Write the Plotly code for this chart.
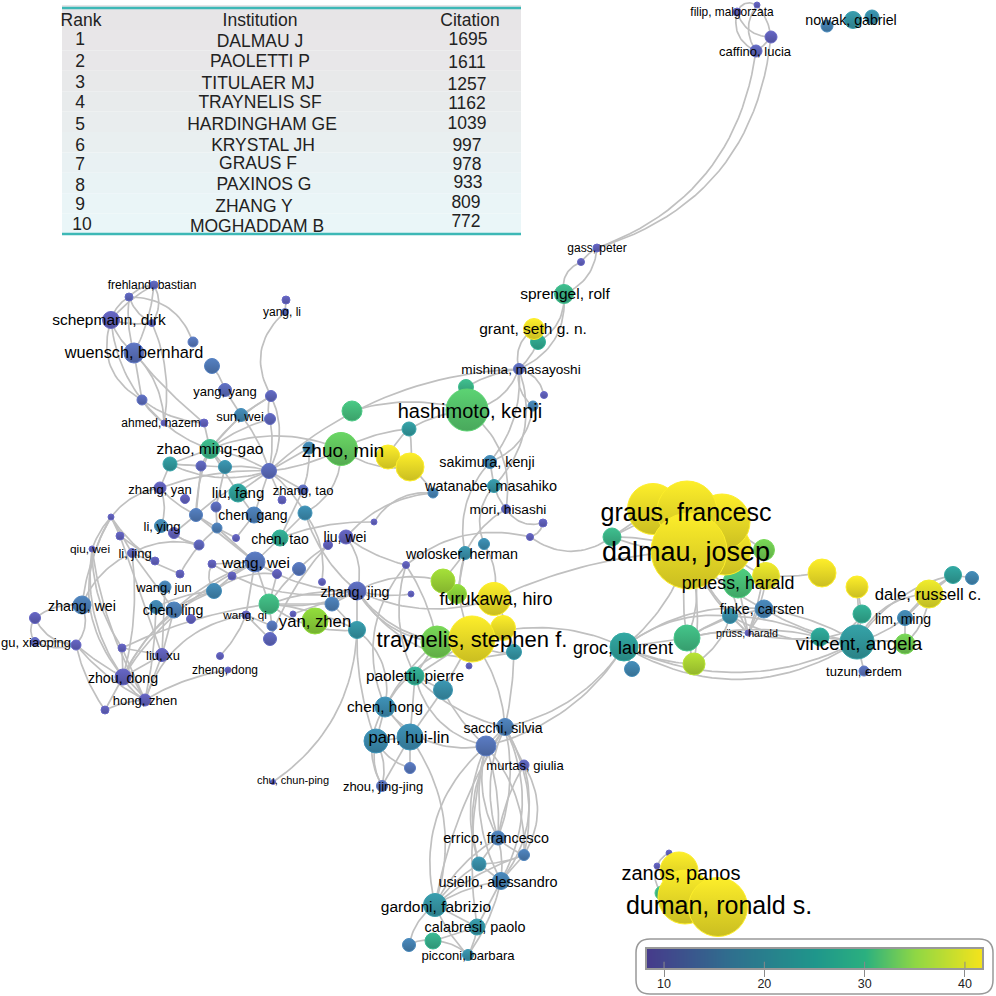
import numpy as np
import plotly.graph_objects as go
from plotly.colors import sample_colorscale

# table at the top left
table_header = ["Rank", "Institution", "Citation"]
table_rank = ["1", "2", "3", "4", "5", "6", "7", "8", "9", "10"]
table_name = ["DALMAU J", "PAOLETTI P", "TITULAER MJ", "TRAYNELIS SF", "HARDINGHAM GE",
              "KRYSTAL JH", "GRAUS F", "PAXINOS G", "ZHANG Y", "MOGHADDAM B"]
table_citation = ["1695", "1611", "1257", "1162", "1039", "997", "978", "933", "809", "772"]
table_fill = ["#e8e6e8", "#e8e7e9", "#e8e9ea", "#e8ebec", "#e9edee",
              "#e9eff0", "#e9f1f3", "#e9f3f5", "#eaf5f7", "#eaf6f8"]
# the rows of the original are not quite evenly spaced
rank_y = [39.7, 61, 82.3, 102.3, 124, 145, 164.3, 185, 204.3, 224]
rank_x = [80, 80, 80, 80, 80, 80, 80, 80, 80, 82]
name_y = [41.3, 61.7, 83.3, 102.3, 124, 145, 163.3, 184, 206, 226]
name_x = [260, 260, 258, 260, 262, 263, 258, 264, 254, 257]
citation_y = [39.7, 62.3, 84, 103.7, 123.3, 145, 164, 182.7, 202.3, 221.7]
citation_x = [468, 467, 467, 467, 467, 467, 467, 468, 466, 466]
row_edges = [30, 50.4, 70.8, 91.2, 111.6, 132, 152.4, 172.8, 193.2, 213.6, 234]

# network nodes, same order in all five lists
node_ids = [
    "frehland", "a1", "schepmann", "a2", "wuensch", "a3", "a4", "yangy", "a5", "yangli",
    "a6", "a7", "sunwei", "a8", "ahmed", "a9", "zhao", "a10", "a11", "a12",
    "a13", "zhuo", "a14", "a15", "a16", "a17", "a18", "zhangyan", "a19", "liufang",
    "zhangtao", "a20", "a21", "a22", "chengang", "a23", "a24", "liying", "a25", "a26",
    "a27", "a28", "chentao", "liuwei", "a29", "a30", "a31", "qiuwei", "lijing", "a32",
    "a33", "wangwei", "a34", "a35", "a36", "a37", "a38", "a39", "wangjun", "a40",
    "zhangjing", "a41", "a42", "a43", "zhangwei", "a44", "chenling", "a45", "a46", "wangqi",
    "a47", "a48", "yanzhen", "a49", "a50", "gu", "a51", "a52", "liuxu", "a53",
    "zhengdong", "zhoudong", "hongzhen", "a54", "chu",
    "gass", "b1", "sprengel", "b2", "grant", "mishina", "b3", "hashimoto", "b4", "b5",
    "sakimura", "watanabe", "b6", "mori", "b7", "b8", "b9", "b10", "wolosker", "b11",
    "b12", "furukawa", "b13", "traynelis", "b14", "b15", "groc", "b16", "b17", "paoletti",
    "b18", "chenhong", "panl", "pan", "sacchi", "b19", "murtas", "b20", "zhoujj", "errico",
    "b21", "b22", "usiello", "gardoni", "calabresi", "b23", "b24", "picconi",
    "c1", "graus", "c2", "c3", "dalmau", "c4", "c5", "pruess", "c6", "c7",
    "dale", "c8", "c9", "finke", "c10", "c11", "limming", "pruss", "c12", "c13",
    "vincent", "c14", "c15", "tuzun",
    "filip", "d1", "d2", "caffino", "nowak1", "nowak", "nowak2",
    "e1", "e2", "e3", "e4", "zanos", "duman",
]
node_x = [
    154, 129, 111, 152, 134, 193, 212, 225, 286, 285,
    271, 142, 241, 270, 164, 204, 210, 170, 201, 225,
    269, 341, 309, 352, 409, 388, 410, 160, 185, 238,
    303, 282, 216, 196, 254, 305, 111, 161, 174, 217,
    120, 236, 280, 346, 328, 374, 199, 92, 132, 155,
    212, 255, 299, 232, 277, 180, 322, 406, 165, 214,
    357, 411, 332, 269, 82, 156, 174, 35, 191, 246,
    293, 272, 315, 357, 270, 35, 76, 122, 162, 220,
    228, 123, 145, 105, 273,
    597, 581, 564, 538, 534, 519, 466, 467, 544, 533,
    490, 494, 433, 506, 543, 530, 612, 484, 465, 443,
    457, 494, 503, 472, 437, 514, 624, 632, 469, 415,
    443, 385, 376, 410, 505, 486, 524, 410, 382, 498,
    524, 479, 501, 435, 477, 409, 433, 468,
    653, 687, 722, 725, 689, 764, 766, 738, 822, 857,
    929, 953, 972, 764, 730, 862, 905, 748, 687, 820,
    857, 905, 694, 864,
    737, 757, 771, 756, 827, 853, 872,
    669, 657, 662, 679, 685, 718,
]
node_y = [
    285, 297, 320, 323, 353, 342, 366, 390, 300, 312,
    396, 400, 415, 419, 423, 423, 449, 464, 466, 467,
    471, 449, 448, 411, 429, 457, 467, 488, 499, 493,
    490, 500, 507, 515, 515, 513, 517, 526, 533, 528,
    536, 538, 538, 537, 545, 522, 545, 549, 553, 561,
    564, 562, 569, 576, 574, 574, 582, 565, 587, 591,
    591, 594, 604, 604, 605, 607, 610, 618, 619, 615,
    614, 626, 621, 630, 639, 642, 645, 648, 655, 656,
    670, 677, 700, 710, 782,
    248, 262, 294, 342, 329, 369, 387, 410, 395, 406,
    462, 486, 493, 509, 523, 537, 537, 544, 553, 581,
    594, 599, 628, 639, 642, 652, 647, 669, 666, 676,
    690, 707, 741, 737, 727, 746, 765, 768, 786, 838,
    855, 864, 881, 905, 927, 945, 941, 955,
    509, 511, 522, 549, 551, 550, 576, 583, 573, 587,
    594, 575, 578, 609, 616, 614, 618, 633, 638, 637,
    642, 644, 664, 671,
    12, 5, 37, 51, 26, 20, 17,
    853, 866, 893, 871, 897, 907,
]
node_size = [
    8, 8, 17, 7, 20, 10, 15, 13, 8, 7,
    11, 10, 13, 11, 6, 8, 19, 14, 10, 13,
    15, 33, 12, 20, 14, 24, 28, 12, 9, 18,
    10, 8, 10, 13, 16, 14, 6, 13, 11, 10,
    8, 7, 16, 14, 9, 6, 10, 6, 9, 8,
    8, 20, 13, 8, 9, 8, 7, 7, 12, 15,
    18, 6, 14, 20, 18, 13, 16, 11, 9, 8,
    6, 10, 26, 17, 13, 9, 10, 8, 13, 7,
    6, 16, 12, 8, 5,
    8, 7, 19, 15, 21, 11, 15, 42, 7, 10,
    13, 13, 10, 9, 8, 7, 18, 11, 13, 24,
    19, 33, 25, 46, 32, 15, 28, 15, 6, 18,
    19, 20, 24, 26, 17, 20, 10, 11, 11, 14,
    11, 14, 17, 23, 16, 13, 16, 11,
    51, 60, 56, 52, 76, 21, 27, 30, 28, 22,
    28, 17, 13, 18, 15, 18, 15, 6, 26, 18,
    34, 20, 22, 10,
    8, 6, 12, 12, 12, 17, 14,
    6, 6, 14, 38, 54, 59,
]
node_score = [
    11, 11, 10, 11, 13, 14, 15, 12, 10, 12,
    11, 12, 18, 11, 10, 10, 27, 22, 11, 20,
    12, 32, 18, 29, 22, 41, 41, 10, 10, 23,
    12, 10, 12, 15, 16, 19, 10, 18, 10, 16,
    10, 10, 25, 10, 10, 10, 11, 10, 11, 10,
    10, 14, 14, 10, 10, 10, 10, 10, 17, 18,
    12, 10, 16, 28, 16, 18, 16, 10, 10, 10,
    10, 14, 35, 21, 11, 11, 10, 10, 10, 10,
    10, 10, 10, 10, 10,
    10, 10, 27, 25, 41, 12, 27, 31, 10, 17,
    18, 21, 17, 11, 10, 10, 27, 19, 20, 36,
    35, 41, 41, 41, 33, 21, 23, 18, 10, 25,
    20, 19, 19, 19, 16, 14, 11, 14, 13, 16,
    16, 20, 17, 21, 21, 17, 26, 20,
    41, 41, 41, 41, 41, 33, 40, 30, 41, 41,
    40, 23, 18, 17, 20, 25, 18, 10, 28, 24,
    22, 33, 37, 13,
    10, 10, 10, 11, 17, 21, 20,
    10, 10, 28, 41, 41, 41,
]

# text labels
label_text = [
    "frehland, bastian", "schepmann, dirk", "wuensch, bernhard", "yang, li", "yang, yang",
    "sun, wei", "ahmed, hazem", "zhao, ming-gao", "zhuo, min", "zhang, yan", "liu, fang",
    "zhang, tao", "chen, gang", "li, ying", "chen, tao", "liu, wei", "qiu, wei", "li, jing",
    "wang, wei", "wang, jun", "zhang, jing", "zhang, wei", "chen, ling", "wang, qi",
    "yan, zhen", "gu, xiaoping", "liu, xu", "zheng, dong", "zhou, dong", "hong, zhen",
    "chu, chun-ping", "gass, peter", "sprengel, rolf", "grant, seth g. n.", "mishina, masayoshi",
    "hashimoto, kenji", "sakimura, kenji", "watanabe, masahiko", "mori, hisashi",
    "wolosker, herman", "furukawa, hiro", "traynelis, stephen f.", "groc, laurent",
    "paoletti, pierre", "chen, hong", "pan, hui-lin", "sacchi, silvia", "murtas, giulia",
    "zhou, jing-jing", "errico, francesco", "usiello, alessandro", "gardoni, fabrizio",
    "calabresi, paolo", "picconi, barbara", "graus, francesc", "dalmau, josep",
    "pruess, harald", "dale, russell c.", "finke, carsten", "lim, ming", "prüss, harald",
    "vincent, angela", "tuzun, erdem", "filip, malgorzata", "caffino, lucia", "nowak, gabriel",
    "zanos, panos", "duman, ronald s.",
]
label_x = [
    152, 109, 134, 282, 225, 240, 161, 210, 343, 160, 238, 303, 253, 162, 280, 345, 90, 135,
    256, 164, 355, 82, 173, 245, 315, 36, 163, 225, 123, 145, 293, 597, 565, 533, 521,
    470, 487, 491, 508, 462, 496, 472, 623, 415, 385, 409, 503, 525, 383, 496, 498, 436,
    475, 468, 686, 686, 738, 928, 762, 903, 747, 859, 864, 732, 755, 851, 681, 719,
]
label_y = [
    285, 320, 352, 312, 391, 416, 423, 449, 450, 489, 493, 490, 515, 526, 539, 537, 549, 553,
    563, 587, 592, 606, 610, 615, 621, 642, 655, 670, 678, 700, 780, 248, 294, 329, 369,
    411, 462, 486, 509, 554, 599, 639, 648, 676, 707, 737, 728, 765, 786, 838, 882, 907,
    927, 955, 512, 552, 583, 594, 609, 619, 633, 643, 671, 12, 51, 20, 873, 905,
]
label_size = [
    12, 15.5, 16.3, 12, 13, 13, 12, 15.5, 19, 13, 15, 13, 14, 13, 14, 14, 11.8, 13,
    15.3, 13, 14.3, 14.2, 14.2, 11.7, 16.7, 13, 13, 12, 14.2, 13, 11, 12, 15.5, 15.5, 13.6,
    20, 14.3, 14.4, 13.7, 14.3, 18, 22, 18, 15.5, 15.4, 16.6, 14.1, 13, 13, 14.3, 14.4, 15.5,
    14.4, 13.1, 25, 27, 17.8, 16.7, 14.2, 14, 10.7, 18.8, 13, 11.9, 13, 14.2, 20, 25,
]

# from, to, bend (bend is the side and depth of the curve)
links = [
    ("caffino", "gass", -0.3), ("d2", "gass", -0.33), ("filip", "d1", -0.5), ("filip", "d2", 0.35),
    ("filip", "caffino", 0.4), ("d1", "caffino", 0.35), ("d1", "d2", -0.15), ("caffino", "d2", 0.1),
    ("gass", "b1", 0.1), ("gass", "sprengel", -0.3), ("b1", "sprengel", 0.4),
    ("sprengel", "b2", -0.3), ("sprengel", "mishina", -0.35), ("grant", "mishina", 0.35),
    ("b2", "mishina", -0.1), ("mishina", "hashimoto", -0.3), ("a15", "hashimoto", -0.15),
    ("a13", "mishina", -0.18), ("b3", "mishina", -0.1), ("mishina", "b4", -0.3), ("mishina", "b5", 0.3),
    ("b5", "sakimura", -0.3), ("mishina", "watanabe", -0.3), ("mishina", "sakimura", -0.2),
    ("hashimoto", "mori", -0.3), ("sakimura", "watanabe", 0), ("watanabe", "mori", 0.1),
    ("mori", "b7", 0.35), ("mori", "wolosker", 0.15), ("sakimura", "wolosker", 0.25),
    ("watanabe", "b10", 0.3), ("b7", "b8", -0.3), ("b8", "b9", 0.35), ("a39", "b8", -0.25),
    ("b6", "a30", 0.3), ("b6", "liuwei", 0.2), ("a30", "chentao", 0.1), ("liuwei", "a39", 0.1),
    ("liuwei", "zhangjing", -0.25), ("a29", "a50", 0.1), ("a29", "a43", 0.1),
    ("a39", "chenhong", 0.3), ("a39", "paoletti", 0.2), ("a39", "b14", -0.1),
    ("zhangjing", "b14", 0.25), ("zhangjing", "traynelis", 0.3), ("zhangjing", "b11", -0.2),
    ("zhangjing", "a41", 0.1), ("zhangjing", "a49", 0), ("zhangjing", "a42", 0),
    ("zhangjing", "furukawa", 0.2), ("zhangjing", "b15", 0.35), ("furukawa", "dalmau", -0.1),
    ("traynelis", "groc", -0.2), ("traynelis", "b17", 0), ("traynelis", "b15", 0.25),
    ("traynelis", "b13", 0), ("traynelis", "b14", 0), ("b10", "furukawa", -0.2),
    ("wolosker", "b11", 0), ("wolosker", "b12", 0), ("wolosker", "traynelis", 0.2),
    ("furukawa", "b15", -0.1), ("b15", "sacchi", -0.05), ("traynelis", "sacchi", -0.15),
    ("paoletti", "sacchi", 0.15), ("traynelis", "paoletti", 0), ("traynelis", "b18", 0),
    ("b14", "paoletti", 0), ("paoletti", "b18", 0), ("traynelis", "chenhong", 0.2),
    ("b14", "chenhong", 0.1), ("a49", "chenhong", -0.3), ("a49", "panl", 0.1), ("chu", "a49", 0.25),
    ("a42", "a49", 0), ("a43", "a42", 0), ("a43", "zhangjing", -0.1), ("a43", "a49", 0.2),
    ("chenhong", "panl", 0), ("chenhong", "pan", 0), ("panl", "pan", 0), ("panl", "zhoujj", -0.2),
    ("panl", "zhoujj", 0.2), ("panl", "b20", 0.2), ("pan", "b20", 0), ("pan", "zhoujj", 0),
    ("chenhong", "zhoujj", 0.3), ("paoletti", "pan", 0), ("b18", "pan", 0), ("b18", "b19", 0.1),
    ("paoletti", "b19", 0.3), ("chenhong", "b19", 0.3), ("pan", "gardoni", -0.25), ("b19", "gardoni", 0.3),
    ("sacchi", "groc", 0.2), ("b19", "groc", 0.2), ("sacchi", "b19", 0), ("sacchi", "murtas", 0),
    ("b19", "errico", 0.2), ("b19", "errico", -0.1), ("b19", "b21", -0.2), ("b19", "usiello", 0.2),
    ("b19", "b22", 0.2), ("sacchi", "errico", 0.2), ("sacchi", "errico", -0.15), ("sacchi", "b21", -0.2),
    ("sacchi", "usiello", -0.25), ("sacchi", "b22", 0.25), ("sacchi", "gardoni", 0.1),
    ("b19", "calabresi", 0.1), ("murtas", "b21", -0.3), ("murtas", "usiello", -0.25), ("murtas", "errico", 0.1),
    ("errico", "b21", 0.1), ("errico", "b22", 0), ("errico", "usiello", -0.1), ("errico", "gardoni", 0.15),
    ("b21", "b22", -0.1), ("b21", "usiello", 0), ("b21", "gardoni", 0.1), ("b22", "usiello", 0),
    ("b22", "gardoni", 0.1), ("usiello", "gardoni", 0.1), ("usiello", "calabresi", 0), ("usiello", "picconi", -0.1),
    ("gardoni", "calabresi", 0), ("gardoni", "b23", 0.2), ("gardoni", "picconi", 0.1), ("calabresi", "picconi", -0.1),
    ("b24", "b23", 0.2), ("b24", "picconi", -0.2), ("calabresi", "b24", 0),
    ("dalmau", "b9", 0.1), ("dalmau", "b9", -0.1), ("graus", "b9", 0.1), ("c1", "b9", 0),
    ("dalmau", "groc", -0.15), ("dalmau", "c12", -0.2), ("dalmau", "c12", 0.1), ("dalmau", "pruess", 0),
    ("dalmau", "c10", 0.1), ("dalmau", "c15", -0.1), ("dalmau", "pruss", 0.1), ("dalmau", "finke", 0.1),
    ("c3", "c4", 0), ("c3", "c5", 0.1), ("c3", "pruss", 0.1), ("c2", "c4", 0), ("c4", "pruss", -0.1),
    ("pruess", "pruss", 0), ("finke", "pruss", 0), ("c10", "pruss", 0), ("c12", "pruss", -0.1),
    ("c6", "c5", -0.05), ("c5", "pruss", -0.1), ("c7", "c11", 0), ("c7", "vincent", -0.05),
    ("c11", "c13", -0.3), ("dale", "vincent", 0.3), ("dale", "c14", -0.2), ("dale", "limming", 0),
    ("c8", "limming", 0.1), ("c8", "c9", 0), ("dale", "c8", 0), ("c8", "vincent", 0.2),
    ("limming", "vincent", -0.1), ("c14", "vincent", 0.1), ("tuzun", "vincent", 0), ("c13", "vincent", 0),
    ("c11", "vincent", 0), ("limming", "c14", 0), ("finke", "vincent", -0.1), ("finke", "vincent", 0.1),
    ("c10", "vincent", 0.15), ("c10", "c13", -0.1), ("pruss", "c13", 0.1), ("c12", "c10", -0.05),
    ("c15", "c10", 0.2), ("c15", "c12", 0), ("c12", "finke", -0.1), ("groc", "finke", -0.2),
    ("groc", "c10", -0.2), ("groc", "c12", 0), ("groc", "vincent", 0.24), ("groc", "vincent", 0.3),
    ("groc", "c15", 0.1), ("groc", "b16", 0), ("c12", "c13", -0.12),
    ("frehland", "a1", 0.2), ("frehland", "schepmann", 0.1), ("frehland", "wuensch", -0.1),
    ("a1", "a3", -0.35), ("frehland", "a2", -0.3), ("a1", "schepmann", 0.2), ("a1", "wuensch", 0.1),
    ("a1", "a2", 0.2), ("schepmann", "a2", 0.1), ("schepmann", "wuensch", 0.15),
    ("schepmann", "a7", 0.4), ("schepmann", "ahmed", 0.2), ("wuensch", "a7", 0), ("wuensch", "ahmed", -0.2),
    ("a2", "ahmed", -0.15), ("wuensch", "a9", 0.05), ("a7", "a9", 0.15), ("a7", "ahmed", 0.1),
    ("ahmed", "zhao", 0.1), ("a9", "zhao", 0), ("a4", "yangy", -0.1), ("yangy", "sunwei", 0),
    ("sunwei", "zhao", 0), ("sunwei", "a13", -0.1), ("a6", "a8", 0.2), ("a6", "a13", -0.25),
    ("a6", "sunwei", 0), ("a8", "a13", -0.1), ("a8", "zhao", 0.1), ("a6", "zhao", 0.1),
    ("a5", "yangli", 0), ("yangli", "a6", 0.4), ("zhao", "a13", -0.1), ("zhao", "a10", 0),
    ("zhao", "a11", 0), ("zhao", "a12", 0), ("zhao", "liufang", 0), ("zhao", "a22", 0.1),
    ("zhao", "zhuo", -0.2), ("a13", "zhuo", 0.1),
    ("zhuo", "a18", 0.2), ("zhuo", "a16", -0.1), ("a17", "a16", -0.1), ("a18", "a16", 0.1),
    ("a16", "hashimoto", -0.1), ("a18", "b6", -0.1), ("zhuo", "a23", -0.3), ("a13", "a23", -0.1),
    ("a23", "chentao", 0), ("chentao", "zhangtao", 0), ("a13", "zhangtao", 0), ("a13", "liufang", 0),
    ("a13", "a20", 0), ("a13", "a12", 0.1), ("a10", "a13", 0.2), ("a13", "chengang", 0), ("a13", "a22", 0.1),
    ("a14", "zhangtao", -0.1), ("a14", "a13", 0), ("zhangyan", "a10", 0), ("zhangyan", "a22", 0.1),
    ("zhangyan", "a13", -0.1), ("a24", "zhangyan", -0.2), ("zhangyan", "liying", -0.2), ("a25", "a22", 0),
    ("liufang", "chengang", 0), ("a21", "a26", 0), ("a22", "a26", 0), ("a26", "wangwei", 0), ("a26", "a28", 0),
    ("chengang", "a28", 0), ("a22", "a11", 0), ("a11", "a10", 0), ("a10", "a12", 0), ("a21", "a12", 0),
    ("a23", "a38", -0.2), ("a23", "zhangjing", 0.15), ("chentao", "wangwei", 0), ("a25", "a31", 0.15),
    ("a31", "lijing", 0.2), ("a24", "qiuwei", 0.1), ("a24", "a27", 0), ("a24", "lijing", 0), ("a27", "a32", 0),
    ("qiuwei", "zhoudong", 0.2), ("a24", "zhoudong", 0.35), ("a24", "zhangwei", 0.1), ("qiuwei", "hongzhen", 0.1),
    ("qiuwei", "a52", 0.15), ("lijing", "chenling", 0), ("lijing", "zhoudong", -0.1), ("zhangwei", "lijing", -0.2),
    ("a27", "liuxu", 0), ("a45", "zhangwei", -0.2), ("a45", "gu", 0.35), ("a45", "a51", 0.3), ("gu", "a51", 0.2),
    ("gu", "a51", -0.1), ("a51", "zhangwei", 0.3), ("a51", "zhoudong", 0.05), ("a51", "hongzhen", 0.1),
    ("a51", "a54", 0.1), ("zhoudong", "hongzhen", 0.15), ("zhoudong", "hongzhen", -0.1), ("zhoudong", "a54", 0),
    ("hongzhen", "a54", 0.1), ("a52", "zhoudong", 0), ("a52", "liuxu", 0), ("a52", "hongzhen", 0),
    ("a52", "a43", -0.08), ("zhoudong", "a40", -0.2), ("zhoudong", "wangwei", -0.15), ("hongzhen", "wangqi", -0.3),
    ("hongzhen", "zhengdong", -0.1), ("liuxu", "chenling", 0), ("liuxu", "wangjun", 0), ("liuxu", "zhoudong", 0),
    ("liuxu", "hongzhen", 0), ("chenling", "zhoudong", 0.1), ("a44", "hongzhen", -0.05), ("a44", "a40", -0.1),
    ("chenling", "a40", -0.1), ("wangwei", "chenling", 0.1), ("a40", "a36", -0.2), ("a35", "a40", 0), ("a35", "wangwei", 0),
    ("wangwei", "a36", 0), ("wangwei", "wangqi", 0), ("wangwei", "a33", 0), ("a33", "a40", 0.3), ("a36", "a43", 0),
    ("wangwei", "a43", 0), ("a43", "zhangjing", 0.15), ("a43", "a49", -0.1), ("wangqi", "a53", -0.1), ("wangqi", "a48", 0),
    ("wangwei", "a22", 0), ("a26", "a37", 0.1), ("liying", "a31", 0.1), ("a37", "lijing", 0), ("wangwei", "zhangjing", 0.15),
    ("a33", "zhangjing", 0.2), ("a47", "zhangjing", 0), ("a48", "a43", 0), ("a50", "wangqi", 0), ("a24", "a32", 0.1),
    ("e2", "e1", -0.2), ("e2", "e3", 0.3), ("e1", "e4", -0.2),
]

# colours
bar_scale = [[0, "#463b8b"], [0.25, "#2f6f8e"], [0.5, "#1f968b"], [0.65, "#2bb07f"],
             [0.8, "#8fd744"], [1, "#f5e31b"]]
node_scale = [[0, "#6a5cc6"], [0.17, "#5b7cc4"], [0.32, "#3f93b8"], [0.47, "#2fae9e"],
              [0.65, "#4fd080"], [0.8, "#93de3c"], [0.97, "#fdee2a"], [1, "#fdee2a"]]
bar_min, bar_max = 8.3, 41.7
bar_ticks = [10, 20, 30, 40]
bar_values = list(range(8, 43))


def shade(colors, k):
    out = []
    for c in colors:
        r, g, b = [float(v) for v in c[c.index("(") + 1:-1].split(",")[:3]]
        out.append("rgb(%d,%d,%d)" % (r * k, g * k, b * k))
    return out


# curved links, one line with gaps
pos = {n: (x, y) for n, x, y in zip(node_ids, node_x, node_y)}
t = np.linspace(0, 1, 25)
edge_x, edge_y = [], []
for a, b, bend in links:
    x0, y0 = pos[a]
    x1, y1 = pos[b]
    cx = (x0 + x1) / 2 - bend * (y1 - y0)
    cy = (y0 + y1) / 2 + bend * (x1 - x0)
    edge_x += list((1 - t) ** 2 * x0 + 2 * t * (1 - t) * cx + t ** 2 * x1) + [None]
    edge_y += list((1 - t) ** 2 * y0 + 2 * t * (1 - t) * cy + t ** 2 * y1) + [None]

# small circles first so the big ones sit on top
order = np.argsort(node_size, kind="stable")
xs = [node_x[i] for i in order]
ys = [node_y[i] for i in order]
sizes = [node_size[i] for i in order]
scores = [node_score[i] for i in order]
base = sample_colorscale(node_scale, [(s - bar_min) / (bar_max - bar_min) for s in scores])

# text sits a little low in its box, shift by font size
label_y2 = [y + s * 0.1 for y, s in zip(label_y, label_size)]

fig = go.Figure()
fig.add_trace(go.Scatter(x=edge_x, y=edge_y, mode="lines", hoverinfo="skip",
                         line=dict(color="#c0c0c0", width=1.7)))
fig.add_trace(go.Scatter(x=xs, y=ys, mode="markers", hoverinfo="skip",
                         marker=dict(size=sizes, color=scores, cmin=bar_min, cmax=bar_max,
                                     colorscale=node_scale, opacity=1,
                                     gradient=dict(type="vertical", color=shade(base, 0.8)),
                                     line=dict(width=1, color=base))))
fig.add_trace(go.Scatter(x=label_x, y=label_y2, mode="text", text=label_text, hoverinfo="skip",
                         textposition="middle center",
                         textfont=dict(size=label_size, color="#000000",
                                       family="Liberation Sans, Arial")))

fig.add_trace(go.Heatmap(x=bar_values, y=[0, 1], z=[bar_values, bar_values], xaxis="x2", yaxis="y2",
                         colorscale=bar_scale, zmin=bar_min, zmax=bar_max, showscale=False,
                         zsmooth="best", hoverinfo="skip"))

# table text, one trace per column
table_font = dict(size=17.5, color="#222222", family="Liberation Sans, Arial")
for xv, yv, tv in [([81, 260, 470], [20.7, 20.7, 20.7], table_header),
                   (rank_x, rank_y, table_rank),
                   (name_x, name_y, table_name),
                   (citation_x, citation_y, table_citation)]:
    fig.add_trace(go.Scatter(x=xv, y=[v + 1.2 for v in yv], mode="text", text=tv, hoverinfo="skip",
                             textposition="middle center", textfont=table_font))

shapes = [dict(type="rect", x0=62, x1=521, y0=5, y1=row_edges[0], xref="x", yref="y", layer="below",
               fillcolor="#e7e5e7", line_width=0)]
for i, c in enumerate(table_fill):
    shapes.append(dict(type="rect", x0=62, x1=521, y0=row_edges[i], y1=row_edges[i + 1], xref="x", yref="y",
                       layer="below", fillcolor=c, line_width=0))
shapes += [
    dict(type="line", x0=62, x1=521, y0=8, y1=8, xref="x", yref="y", line=dict(color="#3db8b6", width=2.5)),
    dict(type="line", x0=62, x1=521, y0=234, y1=234, xref="x", yref="y", line=dict(color="#3db8b6", width=2.5)),
    dict(type="path", xref="x", yref="y", line=dict(color="#999999", width=1.5),
         path="M 650 939 L 979 939 Q 993 939 993 953 L 993 980 Q 993 994 979 994 "
              "L 650 994 Q 636 994 636 980 L 636 953 Q 636 939 650 939 Z"),
]
for v in bar_ticks:
    shapes.append(dict(type="line", x0=v, x1=v, y0=0, y1=0.33, xref="x2", yref="y2",
                       line=dict(color="#8a8a8a", width=1)))

fig.update_layout(
    width=996, height=996, margin=dict(l=0, r=0, t=0, b=0),
    paper_bgcolor="white", plot_bgcolor="white", showlegend=False, shapes=shapes,
    font=dict(family="Liberation Sans, Arial", color="#222222"),
    xaxis=dict(range=[0, 996], domain=[0, 1], visible=False, fixedrange=True),
    yaxis=dict(range=[996, 0], domain=[0, 1], visible=False, fixedrange=True),
    xaxis2=dict(domain=[647 / 996, 982 / 996], range=[bar_min, bar_max], anchor="y2",
                tickvals=bar_ticks, ticks="outside", ticklen=7, tickcolor="#8a8a8a",
                ticklabelstandoff=-4,
                showline=True, mirror=True, linecolor="#999999", linewidth=2,
                showgrid=False, zeroline=False, tickfont=dict(size=12.5, color="#222222")),
    yaxis2=dict(domain=[1 - 968 / 996, 1 - 949 / 996], range=[0, 1], anchor="x2", ticks="",
                showticklabels=False, showline=True, mirror=True, linecolor="#999999", linewidth=2,
                showgrid=False, zeroline=False),
)

fig.write_html("out.html", config={"displayModeBar": False},
               post_script="document.body.style.margin='0';document.body.style.overflow='hidden';")
